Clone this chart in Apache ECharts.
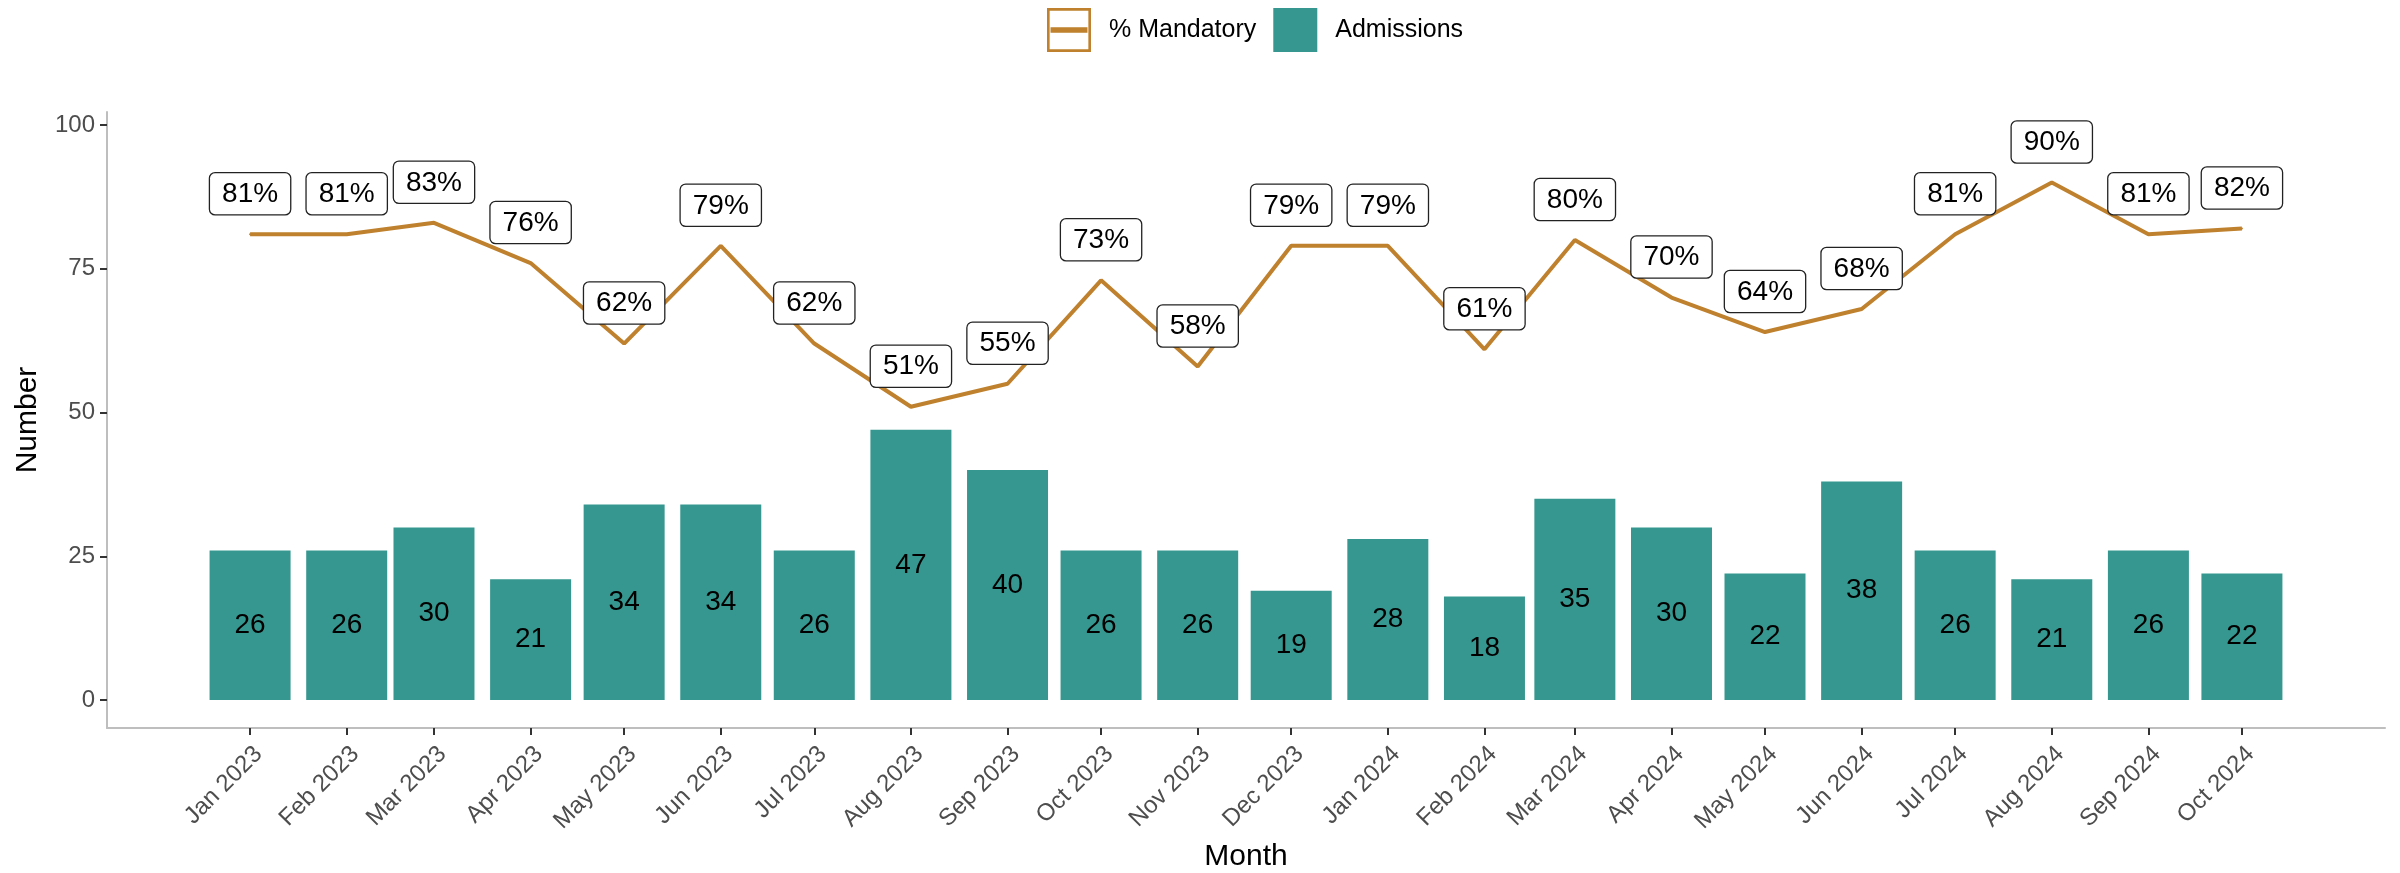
<!DOCTYPE html>
<html>
<head>
<meta charset="utf-8">
<script src="https://cdn.jsdelivr.net/npm/echarts@6/dist/echarts.min.js"></script>
<style>
	html, body { margin: 0; padding: 0; background: #fff; }
	#chart { width: 2400px; height: 873px; }
</style>
</head>
<body>
<div id="chart"></div>
<script>
var months = ['2023-01', '2023-02', '2023-03', '2023-04', '2023-05', '2023-06', '2023-07', '2023-08',
	'2023-09', '2023-10', '2023-11', '2023-12', '2024-01', '2024-02', '2024-03', '2024-04',
	'2024-05', '2024-06', '2024-07', '2024-08', '2024-09', '2024-10'];
var admissions = [26, 26, 30, 21, 34, 34, 26, 47, 40, 26, 26, 19, 28, 18, 35, 30, 22, 38, 26, 21, 26, 22];
var pctMandatory = [81, 81, 83, 76, 62, 79, 62, 51, 55, 73, 58, 79, 79, 61, 80, 70, 64, 68, 81, 90, 81, 82];
var yTicks = [0, 25, 50, 75, 100];
var monthNames = ['Jan', 'Feb', 'Mar', 'Apr', 'May', 'Jun', 'Jul', 'Aug', 'Sep', 'Oct', 'Nov', 'Dec'];

var DAY = 86400000;
var FONT = '"Liberation Sans", Arial, sans-serif';

// month strings -> timestamps (first of month), used on a value axis
var times = months.map(function (m) {
	var p = m.split('-');
	return new Date(+p[0], +p[1] - 1, 1).getTime();
});

var xPad = 45.9 * DAY;
var xMin = times[0] - xPad;
var xMax = times[times.length - 1] + xPad;

var barData = times.map(function (t, i) { return [t, admissions[i]]; });
var lineData = times.map(function (t, i) { return [t, pctMandatory[i]]; });

// outlined box with a line through it, like the ggplot key
var lineKeyIcon = 'path://M0,0 H100 V100 H0 Z M6,6 V94 H94 V6 Z M8,44 H92 V56 H8 Z';

var chart = echarts.init(document.getElementById('chart'));

var option = {
	animation: false,
	textStyle: { fontFamily: FONT },
	legend: {
		left: 1047,
		top: 8,
		padding: 0,
		itemWidth: 44,
		itemHeight: 44,
		itemGap: 17,
		textStyle: { fontSize: 25, color: '#000', fontFamily: FONT, padding: [0, 0, 0, 13] },
		data: [
			{ name: '% Mandatory', icon: lineKeyIcon },
			{ name: 'Admissions', icon: 'rect' }
		]
	},
	grid: {
		left: 107,
		right: 15,
		top: 112,
		bottom: 145,
		containLabel: false,
		outerBoundsMode: 'none'
	},
	xAxis: {
		type: 'value',
		min: xMin,
		max: xMax,
		scale: true,
		name: 'Month',
		nameLocation: 'middle',
		nameGap: 114,
		nameTextStyle: { fontSize: 30, color: '#000', fontFamily: FONT },
		axisLine: { onZero: false, lineStyle: { color: '#bebebe', width: 2 } },
		axisTick: {
			show: true,
			length: 7,
			customValues: times,
			lineStyle: { color: '#333', width: 2 }
		},
		axisLabel: {
			customValues: times,
			rotate: 45,
			align: 'right',
			verticalAlign: 'top',
			margin: 14,
			fontSize: 24,
			color: '#4d4d4d',
			fontFamily: FONT,
			formatter: function (value) {
				var d = new Date(value);
				return monthNames[d.getMonth()] + ' ' + d.getFullYear();
			}
		},
		splitLine: { show: false }
	},
	yAxis: {
		type: 'value',
		min: -4.87,
		max: 102.27,
		name: 'Number',
		nameLocation: 'middle',
		nameGap: 64,
		nameTextStyle: { fontSize: 30, color: '#000', fontFamily: FONT },
		axisLine: { show: true, onZero: false, lineStyle: { color: '#bebebe', width: 2 } },
		axisTick: {
			show: true,
			length: 7,
			customValues: yTicks,
			lineStyle: { color: '#333', width: 2 }
		},
		axisLabel: {
			customValues: yTicks,
			margin: 12,
			fontSize: 24,
			color: '#4d4d4d',
			fontFamily: FONT
		},
		splitLine: { show: false }
	},
	series: [
		{
			name: 'Admissions',
			type: 'bar',
			data: barData,
			barWidth: 81,
			itemStyle: { color: '#35978f' },
			label: {
				show: true,
				position: 'inside',
				fontSize: 28,
				color: '#000',
				fontFamily: FONT
			},
			z: 1
		},
		{
			name: '% Mandatory',
			type: 'line',
			data: lineData,
			symbol: 'circle',
			symbolSize: 2,
			itemStyle: { color: '#bf812d' },
			lineStyle: { color: '#bf812d', width: 4 },
			label: {
				show: true,
				position: 'top',
				distance: 19,
				fontSize: 28,
				lineHeight: 28,
				color: '#000',
				fontFamily: FONT,
				backgroundColor: '#fff',
				borderColor: '#222',
				borderWidth: 1.3,
				borderRadius: 5,
				padding: [7, 12, 6, 12],
				formatter: function (p) { return p.value[1] + '%'; }
			},
			z: 3
		}
	]
};

chart.setOption(option);
</script>
</body>
</html>
